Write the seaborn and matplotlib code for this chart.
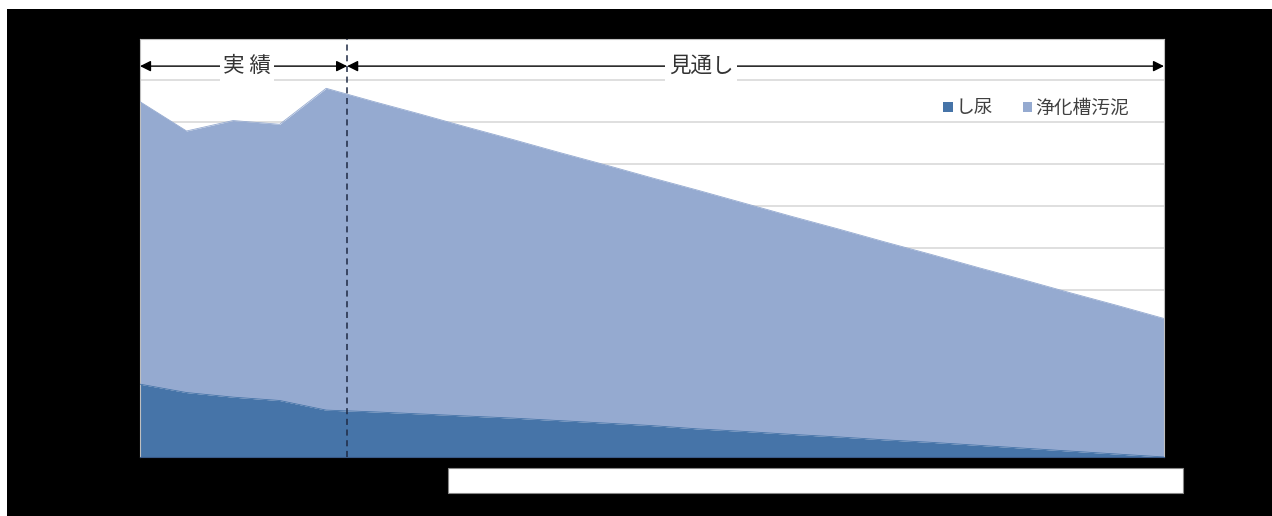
import numpy as np
import pandas as pd
import matplotlib
matplotlib.use("Agg")
import matplotlib.pyplot as plt
from matplotlib.patches import Rectangle, Patch
import seaborn as sns

# ---- data (units unknown, scale 0-10) ----
years = list(range(2012, 2035))  # 23 categories (no labels shown in reference)
shinyo = [1.74, 1.54, 1.43, 1.35, 1.12, 1.08, 1.03, 0.98, 0.93, 0.87, 0.81, 0.75,
          0.67, 0.61, 0.54, 0.48, 0.41, 0.35, 0.28, 0.21, 0.14, 0.07, 0.00]
jokaso = [6.75, 6.25, 6.61, 6.60, 7.69, 7.42, 7.17, 6.91, 6.66, 6.41, 6.17, 5.92,
          5.70, 5.45, 5.21, 4.97, 4.73, 4.49, 4.25, 4.02, 3.78, 3.55, 3.31]
series_names = ["し尿", "浄化槽汚泥"]
period_labels = ["実 績", "見通し"]
split_pos = 4.45  # boundary between actual and forecast (category units)

colors = {"し尿": "#4674A8", "浄化槽汚泥": "#95AAD0"}

sns.set_theme(style="white")
plt.rcParams["font.family"] = ["Noto Sans CJK JP", "DejaVu Sans"]

W, H = 1272, 516
fig = plt.figure(figsize=(W / 100, H / 100), dpi=100)
fig.patch.set_facecolor("black")
# white strips at top and left edges
fig.patches.append(Rectangle((0, 1 - 9 / H), 1, 9 / H, transform=fig.transFigure,
                             facecolor="white", edgecolor="none", zorder=0))
fig.patches.append(Rectangle((0, 0), 7 / W, 1, transform=fig.transFigure,
                             facecolor="white", edgecolor="none", zorder=0))
# blank white caption box at bottom
fig.patches.append(Rectangle((448 / W, (H - 493) / H), (1183 - 448) / W, 25 / H,
                             transform=fig.transFigure, facecolor="white",
                             edgecolor="#888888", linewidth=0.8, zorder=1))

left, right, top, bottom = 140, 1164, 38.5, 457
ax = fig.add_axes([left / W, (H - bottom) / H, (right - left) / W, (bottom - top) / H])
ax.set_facecolor("white")

x = np.arange(len(years))
df = pd.DataFrame({"idx": x, "shinyo": shinyo,
                   "total": np.array(shinyo) + np.array(jokaso)})

ax.fill_between(df["idx"], 0, df["shinyo"], color=colors["し尿"], lw=0, zorder=2)
ax.fill_between(df["idx"], df["shinyo"], df["total"], color=colors["浄化槽汚泥"], lw=0, zorder=2)
sns.lineplot(data=df, x="idx", y="shinyo", color=colors["し尿"], lw=0.6, ax=ax, zorder=3)
sns.lineplot(data=df, x="idx", y="total", color=colors["浄化槽汚泥"], lw=0.6, ax=ax, zorder=3)

ax.set_xlim(0, len(years) - 1)
ax.set_ylim(0, 10)
ax.set_yticks(np.arange(1, 10))
ax.yaxis.grid(True, color="#D9D9D9", lw=1.2)
ax.set_axisbelow(True)
ax.set_xticks([])
ax.tick_params(left=False, labelleft=False)
ax.set_xlabel("")
ax.set_ylabel("")
for s in ["left", "right", "top"]:
    ax.spines[s].set_color("#BFBFBF")
    ax.spines[s].set_linewidth(0.8)
ax.spines["bottom"].set_color("#3A5A88")
ax.spines["bottom"].set_linewidth(0.8)

# dashed split line
ax.axvline(split_pos, ymin=0, ymax=1.0, color="#1F2A44", lw=1.1, ls=(0, (4, 3)), zorder=5,
           clip_on=False)

# period arrows
ya = 9.34
ax.annotate("", xy=(0, ya), xytext=(split_pos, ya),
            arrowprops=dict(arrowstyle="<|-|>", color="black", lw=1.0,
                            mutation_scale=16, shrinkA=0, shrinkB=0), zorder=6)
ax.annotate("", xy=(split_pos, ya), xytext=(len(years) - 1, ya),
            arrowprops=dict(arrowstyle="<|-|>", color="black", lw=1.0,
                            mutation_scale=16, shrinkA=0, shrinkB=0), zorder=6,
            annotation_clip=False)
tb = dict(facecolor="white", edgecolor="none", pad=2.5)
ax.text((247 - left) / (right - left) * (len(years) - 1), ya, period_labels[0],
        ha="center", va="center", fontsize=15.5, color="#333333", bbox=tb, zorder=7)
ax.text((701 - left) / (right - left) * (len(years) - 1), ya, period_labels[1],
        ha="center", va="center", fontsize=15.5, color="#333333", bbox=tb, zorder=7)

# legend
handles = [Patch(facecolor=colors[n], edgecolor="none", label=n) for n in series_names]
leg = ax.legend(handles=handles, loc="center", bbox_to_anchor=(1036 / W, (H - 108) / H),
                bbox_transform=fig.transFigure, ncol=2, frameon=False,
                fontsize=13.5, handlelength=0.5, handleheight=0.5, handletextpad=0.15,
                columnspacing=1.6, borderpad=0, borderaxespad=0)
for t in leg.get_texts():
    t.set_color("#404040")

fig.savefig("out.png", dpi=100, facecolor=fig.get_facecolor())
